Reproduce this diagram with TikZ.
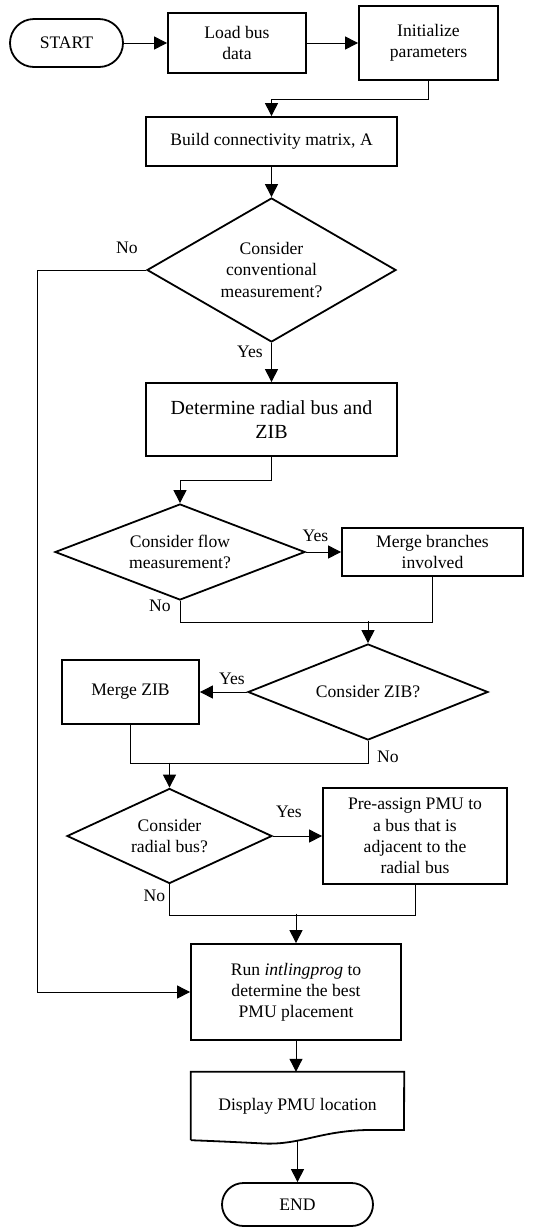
\documentclass[tikz,border=0pt]{standalone}
\usepackage{fontspec}
\setmainfont{Liberation Serif}
\usetikzlibrary{shapes.geometric, positioning, arrows.meta}
\tikzset{
>={Triangle[length=13pt, width=13pt]}, % big filled arrow heads
every node/.style={font=\fontsize{17.6}{21.2}\selectfont, align=center, inner sep=0pt}, % text of all nodes
terminal/.style={draw, line width=1.8pt}, % START and END, corners set per node
process/.style={draw, line width=1.8pt, rectangle}, % the boxes
decision/.style={draw, line width=1.8pt, diamond}, % the questions
flowline/.style={line width=1pt}, % thin connectors
}

\begin{document}
\begin{tikzpicture}[x=1pt, y=-1pt]
\useasboundingbox (0,0) rectangle (552,1227);

            \node[terminal, minimum width=113pt, minimum height=48pt, rounded corners=24pt] (start) at (66.5,43) {START};
            \node[process, minimum width=138pt, minimum height=60pt] (load) at (237,43) {Load bus\\data};
            \node[process, minimum width=139pt, minimum height=74pt] (init) at (428.5,43) {Initialize\\parameters};
            \node[process, minimum width=251pt, minimum height=49pt] (build) at (271.5,141.5) {Build connectivity matrix, A};
            \node[decision, aspect=1.73, minimum width=249pt, minimum height=144pt] (cons) at (271.5,270) {Consider\\conventional\\measurement?};
            \node[process, minimum width=251pt, minimum height=73pt, font=\fontsize{20}{24.5}\selectfont] (determ) at (271.5,419.5) {Determine radial bus and\\ZIB};
            \node[decision, aspect=2.6, minimum width=250pt, minimum height=96pt] (flow) at (180,552) {Consider flow\\measurement?};
            \node[process, minimum width=181pt, minimum height=48pt] (mergebr) at (432.5,552) {Merge branches\\involved};
            \node[decision, aspect=2.5, minimum width=240pt, minimum height=96pt] (zib) at (368,692) {Consider ZIB?};
            \node[process, minimum width=137pt, minimum height=64pt] (mergezib) at (130.5,692) {Merge ZIB};
            \node[decision, aspect=2.16, minimum width=205pt, minimum height=95pt] (radial) at (169.5,836) {Consider\\radial bus?};
            \node[process, minimum width=184pt, minimum height=96pt] (preassign) at (415,836) {Pre-assign PMU to\\a bus that is\\adjacent to the\\radial bus};
            \node[process, minimum width=210pt, minimum height=96pt] (run) at (296,992) {Run \textit{intlingprog} to\\determine the best\\PMU placement};
            \node[minimum width=213pt, minimum height=68pt] (disp) at (297.5,1106) {Display PMU location};
            \node[terminal, minimum width=151pt, minimum height=43pt, rounded corners=21.5pt] (end) at (297.5,1204.5) {END};

            % answers
            \node (no1) at (127,247.5) {No};
            \node (yes1) at (250,352) {Yes};
            \node (yes2) at (315.5,536) {Yes};
            \node (no2) at (160,606) {No};
            \node (yes3) at (232,679) {Yes};
            \node (no3) at (388,757) {No};
            \node (yes4) at (289,812) {Yes};
            \node (no4) at (154.5,896) {No};

            % document shape of the output
            \draw[line width=1.8pt] (disp.south west) -- (disp.north west) -- (disp.north east) -- (404,1130) -- (367,1130)
                  .. controls (320,1131) and (300,1145) .. (264,1143.5)
                  .. controls (235,1142) and (212,1141) .. (disp.south west);

            \draw[flowline, ->] (start) edge (load)
                    (load) edge (init)
                    (build) edge (cons)
                    (cons) edge (determ)
                    (flow) edge (mergebr)
                    (zib) edge (mergezib)
                    (radial) edge (preassign)
                    (disp) edge (end);
            \draw[flowline, ->] (run.south) -- (run.south |- disp.north);

            \draw[flowline, ->] (init.south) -- ++(0,19) -| (build.north);
            \draw[flowline, ->] (cons.west) -- ++(-109,0) |- (run.west);
            \draw[flowline, ->] (determ.south) -- ++(0,24) -| (flow.north);
            \draw[flowline] (flow.south) -- ++(0,22) -| (mergebr.south);
            \draw[flowline, ->] ([yshift=22pt]zib.north) -- (zib.north);
            \draw[flowline] (mergezib.south) -- ++(0,39) -| (zib.south);
            \draw[flowline, ->] ([yshift=25pt]radial.north) -- (radial.north);
            \draw[flowline] (radial.south) -- ++(0,31) -| (preassign.south);
            \draw[flowline, ->] ([yshift=29.5pt]run.north) -- (run.north);
\end{tikzpicture}
\end{document}
